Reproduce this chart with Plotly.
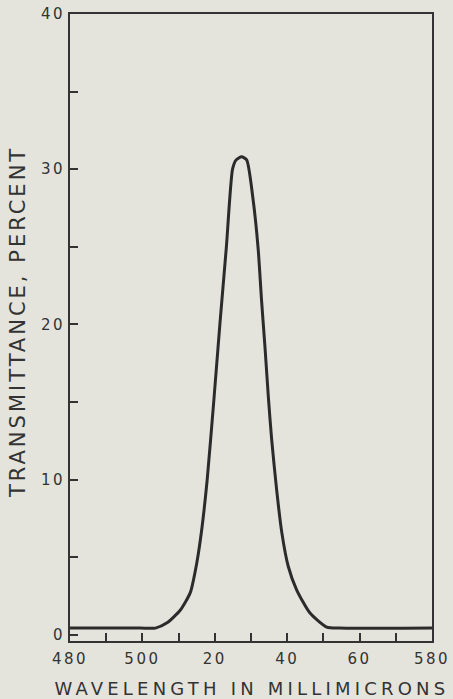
import plotly.graph_objects as go

# Data
wavelength = [480, 499.4, 503.6, 506.8, 510.5, 513.2, 515.0, 516.4, 517.9, 519.7,
              521.4, 523.2, 524.9, 525.9, 527.4, 528.8, 530.6, 532.0, 532.9, 533.9,
              534.8, 535.7, 537.1, 538.5, 540.3, 542.6, 546.3, 550.9, 554.5, 580]
transmittance = [0.43, 0.43, 0.43, 0.77, 1.6, 2.7, 4.6, 6.8, 10.0, 15.0,
                 20.0, 25.0, 30.0, 30.6, 30.8, 30.6, 28.0, 24.8, 21.6, 18.4,
                 15.3, 12.6, 9.3, 6.6, 4.4, 2.9, 1.4, 0.5, 0.43, 0.43]

x_tickvals = [480, 490, 500, 510, 520, 530, 540, 550, 560, 570, 580]
x_ticktext = ["480", "", "500", "", "20", "", "40", "", "60", "", "580"]
y_tickvals = [0, 5, 10, 15, 20, 25, 30, 35, 40]
y_ticktext = ["0", "", "10", "", "20", "", "30", "", "40"]

x_title = "WAVELENGTH IN MILLIMICRONS"
y_title = "TRANSMITTANCE, PERCENT"

bg = "#e4e4dd"
ink = "#2b2b2b"
text_color = "#333333"
font_family = "DejaVu Sans, Liberation Sans, sans-serif"

fig = go.Figure()
fig.add_trace(go.Scatter(x=wavelength, y=transmittance, mode="lines",
                         line=dict(color=ink, width=3, shape="spline", smoothing=0.6),
                         showlegend=False, hoverinfo="skip"))

axis_common = dict(showline=True, linecolor="#333333", linewidth=2, mirror=True,
                   ticks="inside", ticklen=8, tickwidth=1.5, tickcolor="#333333",
                   showgrid=False, zeroline=False, automargin=False,
                   tickfont=dict(family=font_family, size=15, color=text_color))

fig.update_xaxes(range=[480, 580], tickmode="array", tickvals=x_tickvals,
                 ticktext=x_ticktext, ticklabelstandoff=3, **axis_common)
fig.update_yaxes(range=[-0.4, 40], tickmode="array", tickvals=y_tickvals,
                 ticktext=y_ticktext, ticklabelstandoff=0, **axis_common)

fig.update_layout(
    width=453, height=699,
    margin=dict(l=70, r=21, t=14, b=58),
    paper_bgcolor=bg, plot_bgcolor=bg,
    annotations=[
        dict(text=x_title, xref="paper", yref="paper", x=0.503, y=-0.075,
             xanchor="center", yanchor="middle", showarrow=False,
             font=dict(family=font_family, size=18, color=text_color)),
        dict(text=y_title, xref="paper", yref="paper", x=-0.142, y=0.508,
             xanchor="center", yanchor="middle", showarrow=False, textangle=-90,
             font=dict(family=font_family, size=21, color=text_color)),
    ],
)

post_js = """
var gd = document.getElementById('{plot_id}');
function widen() {
  gd.querySelectorAll('.annotation-text').forEach(function (t) {
    var s = t.textContent || '';
    if (s.indexOf('WAVELENGTH') === 0) { t.style.letterSpacing = '4.2px'; }
    else if (s.indexOf('TRANSMITTANCE') === 0) { t.style.letterSpacing = '3px'; }
  });
  gd.querySelectorAll('.xtick text, .ytick text').forEach(function (t) {
    t.style.letterSpacing = '2.5px';
  });
}
widen();
if (gd.on) { gd.on('plotly_afterplot', widen); }
"""

fig.write_html("out.html", post_script=post_js)
